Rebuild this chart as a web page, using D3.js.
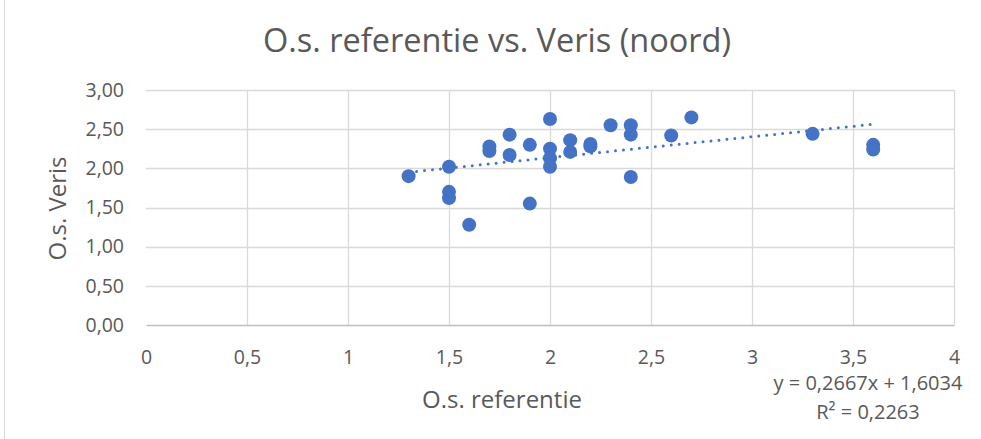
<!DOCTYPE html>
<html>
<head>
<meta charset="utf-8">
<script src="https://cdn.jsdelivr.net/npm/d3@7"></script>
<style>
  body { margin: 0; background: #fff; }
  text { font-family: "Open Sans", "Noto Sans", sans-serif; fill: #595959; }
</style>
</head>
<body>
<div id="chart"></div>
<script>
// O.s. referentie (x) and O.s. Veris (y)
var referentie = [1.3, 1.5, 1.5, 1.5, 1.6, 1.7, 1.7, 1.8, 1.8, 1.9, 1.9, 2.0, 2.0, 2.0, 2.0, 2.1, 2.1, 2.2, 2.2, 2.3, 2.4, 2.4, 2.4, 2.6, 2.7, 3.3, 3.6, 3.6];
var veris      = [1.90, 2.02, 1.70, 1.62, 1.28, 2.28, 2.22, 2.43, 2.17, 2.30, 1.55, 2.63, 2.25, 2.13, 2.02, 2.36, 2.21, 2.31, 2.28, 2.55, 2.55, 2.43, 1.89, 2.42, 2.65, 2.44, 2.30, 2.24];
var xTicks = [0, 0.5, 1, 1.5, 2, 2.5, 3, 3.5, 4];
var yTicks = [0, 0.5, 1, 1.5, 2, 2.5, 3];
var slope = 0.2667, intercept = 1.6034, rSquared = 0.2263;

var points = referentie.map(function(d, i) { return { x: d, y: veris[i] }; });

var width = 981, height = 439;
var margin = { top: 90, left: 146, right: 27, bottom: 114 };
var innerW = width - margin.left - margin.right,
    innerH = height - margin.top - margin.bottom;

var comma = function(fmt) {
  var f = d3.format(fmt);
  return function(v) { return f(v).replace(".", ","); };
};

var svg = d3.select("#chart").append("svg")
    .attr("width", width)
    .attr("height", height);

// chart border on the left
svg.append("line")
    .attr("x1", 4.5).attr("x2", 4.5)
    .attr("y1", 0).attr("y2", height)
    .attr("stroke", "#d9d9d9");

var g = svg.append("g")
    .attr("transform", "translate(" + margin.left + "," + margin.top + ")");

var x = d3.scaleLinear().domain([0, 4]).range([0, innerW]);
var y = d3.scaleLinear().domain([0, 3]).range([innerH, 0]);

// gridlines
g.append("g").selectAll("line.hgrid")
  .data(yTicks.slice(1))
  .enter().append("line")
    .attr("x1", 0).attr("x2", innerW)
    .attr("y1", function(d) { return Math.round(y(d)) + 0.5; })
    .attr("y2", function(d) { return Math.round(y(d)) + 0.5; })
    .attr("stroke", "#d9d9d9")
    .attr("stroke-width", 1.3);

g.append("g").selectAll("line.vgrid")
  .data(xTicks.slice(1))
  .enter().append("line")
    .attr("y1", 0).attr("y2", innerH)
    .attr("x1", function(d) { return Math.round(x(d)) + 0.5; })
    .attr("x2", function(d) { return Math.round(x(d)) + 0.5; })
    .attr("stroke", "#d9d9d9")
    .attr("stroke-width", 1.3);

// axes
var xAxis = d3.axisBottom(x).tickValues(xTicks).tickSize(0).tickPadding(25)
    .tickFormat(function(d) { return String(d).replace(".", ","); });
var gx = g.append("g")
    .attr("transform", "translate(0," + innerH + ")")
    .call(xAxis);
gx.select(".domain").attr("stroke", "#bfbfbf").attr("stroke-width", 1.3);
gx.selectAll("text").style("font-size", "19.5px").attr("fill", "#595959");

var yAxis = d3.axisLeft(y).tickValues(yTicks).tickSize(0).tickPadding(22)
    .tickFormat(comma(".2f"));
var gy = g.append("g").call(yAxis);
gy.select(".domain").remove();
gy.selectAll("text").style("font-size", "19.5px").attr("fill", "#595959");

// trendline
var xr = d3.extent(referentie);
g.append("line")
    .attr("x1", x(xr[0])).attr("y1", y(slope * xr[0] + intercept))
    .attr("x2", x(xr[1])).attr("y2", y(slope * xr[1] + intercept))
    .attr("stroke", "#4472c4")
    .attr("stroke-width", 3)
    .attr("stroke-linecap", "round")
    .attr("stroke-dasharray", "0 8");

// points
g.append("g").selectAll("circle")
  .data(points)
  .enter().append("circle")
    .attr("cx", function(d) { return x(d.x); })
    .attr("cy", function(d) { return y(d.y); })
    .attr("r", 7)
    .attr("fill", "#4472c4");

// title and axis titles
svg.append("text")
    .attr("x", 497).attr("y", 52)
    .attr("text-anchor", "middle")
    .style("font-size", "32.5px")
    .text("O.s. referentie vs. Veris (noord)");

svg.append("text")
    .attr("transform", "translate(66," + (margin.top + innerH / 2 + 1) + ") rotate(-90)")
    .attr("text-anchor", "middle")
    .style("font-size", "24px")
    .text("O.s. Veris");

svg.append("text")
    .attr("x", 502).attr("y", 408)
    .attr("text-anchor", "middle")
    .style("font-size", "24px")
    .text("O.s. referentie");

// trendline equation
var eq = svg.append("g").attr("transform", "translate(868,0)");
eq.append("text")
    .attr("y", 390).attr("text-anchor", "middle")
    .style("font-size", "20px")
    .text("y = " + comma(".4f")(slope) + "x + " + comma(".4f")(intercept));
eq.append("text")
    .attr("y", 419).attr("text-anchor", "middle")
    .style("font-size", "20px")
    .text("R² = " + comma(".4f")(rSquared));
</script>
</body>
</html>
